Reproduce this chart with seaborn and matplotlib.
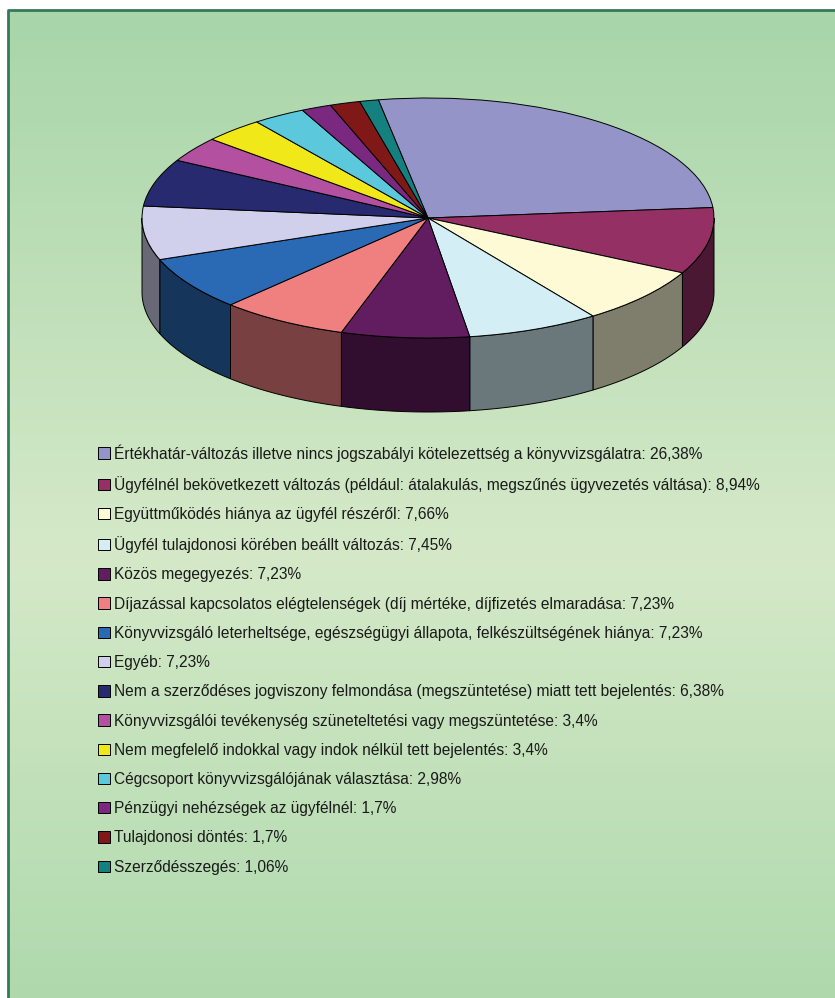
import numpy as np
import matplotlib
matplotlib.use("Agg")
import matplotlib.pyplot as plt
import seaborn as sns
from matplotlib.colors import LinearSegmentedColormap, to_rgb

# okok megoszlása (%)
categories = [
    "Értékhatár-változás illetve nincs jogszabályi kötelezettség a könyvvizsgálatra",
    "Ügyfélnél bekövetkezett változás (például: átalakulás, megszűnés ügyvezetés váltása)",
    "Együttműködés hiánya az ügyfél részéről",
    "Ügyfél tulajdonosi körében beállt változás",
    "Közös megegyezés",
    "Díjazással kapcsolatos elégtelenségek (díj mértéke, díjfizetés elmaradása",
    "Könyvvizsgáló leterheltsége, egészségügyi állapota, felkészültségének hiánya",
    "Egyéb",
    "Nem a szerződéses jogviszony felmondása (megszüntetése) miatt tett bejelentés",
    "Könyvvizsgálói tevékenység szüneteltetési vagy megszüntetése",
    "Nem megfelelő indokkal vagy indok nélkül tett bejelentés",
    "Cégcsoport könyvvizsgálójának választása",
    "Pénzügyi nehézségek az ügyfélnél",
    "Tulajdonosi döntés",
    "Szerződésszegés",
]
values = [26.38, 8.94, 7.66, 7.45, 7.23, 7.23, 7.23, 7.23, 6.38, 3.4, 3.4, 2.98, 1.7, 1.7, 1.06]
slice_colors = ["#9494c8", "#953065", "#fdfad5", "#d3eef5", "#621c60", "#f08080", "#2a6ab5",
                "#d0d0ec", "#282a70", "#b450a0", "#f0e818", "#5cc8dc", "#7a2880", "#801818", "#158080"]

sns.set_theme(style="white")
plt.rcParams["font.family"] = ["Liberation Sans Narrow", "Liberation Sans", "DejaVu Sans"]

W, H = 835, 998
fig = plt.figure(figsize=(W / 100, H / 100), dpi=100)
fig.patch.set_facecolor("white")

# háttér: zöld színátmenet kerettel
bg = fig.add_axes([0, 0, 1, 1])
bg.set_xlim(0, W)
bg.set_ylim(H, 0)
bg.axis("off")
grad = LinearSegmentedColormap.from_list("bg", [(0, "#a8d5a9"), (0.55, "#d5e9c8"), (1, "#afd9ad")])
bg.imshow(np.linspace(0, 1, 256)[:, None], cmap=grad, aspect="auto", extent=(8, W, H, 10))
bg.plot([8, 8, W], [H, 10, 10], color="#337a5a", lw=2, solid_capstyle="butt")

# 3D-s kördiagram: tető + oldalfal
cx, cy, rx, ry, depth = 428, 218, 286, 120, 74
ax = fig.add_axes([(cx - rx) / W, 1 - (cy + ry + depth) / H, 2 * rx / W, (2 * ry + depth) / H])
d = depth / ry
start = 100
palette = sns.color_palette(slice_colors)
wedges, _ = ax.pie(values, colors=palette, startangle=start, counterclock=False,
                   wedgeprops=dict(edgecolor="black", linewidth=0.7))
ax.set_aspect("auto")
ax.set_xlim(-1, 1)
ax.set_ylim(-1 - d, 1)
for w in wedges:
    w.set_clip_on(False)

frac = np.cumsum([0] + values) / sum(values)
for i, col in enumerate(palette):
    t1 = start - 360 * frac[i + 1]
    t2 = start - 360 * frac[i]
    side = tuple(0.5 * c for c in to_rgb(col))
    for k in (-1, 0):
        lo, hi = max(t1, 180 + 360 * k), min(t2, 360 + 360 * k)
        if hi > lo:
            th = np.radians(np.linspace(lo, hi, 80))
            xs = np.r_[np.cos(th), np.cos(th[::-1])]
            ys = np.r_[np.sin(th), np.sin(th[::-1]) - d]
            ax.fill(xs, ys, color=side, ec="black", lw=0.7, zorder=0.5, clip_on=False)

labels = [f"{c}: {format(v, 'g').replace('.', ',')}%" for c, v in zip(categories, values)]
fig.legend(wedges, labels, loc="upper left", bbox_to_anchor=(98 / W, 1 - 444 / H),
           frameon=False, fontsize=11.2, handlelength=0.75, handleheight=0.75,
           handletextpad=0.3, labelspacing=0.915, borderpad=0, borderaxespad=0,
           labelcolor="#1a1a1a")

fig.savefig("out.png", dpi=100)
